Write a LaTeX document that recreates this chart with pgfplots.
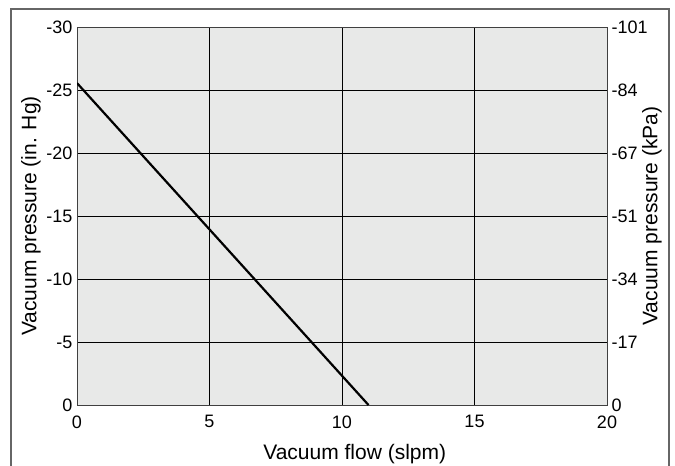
\documentclass[border=0pt]{standalone}
\usepackage{fontspec}
\setmainfont{Liberation Sans}
\usepackage{pgfplots}
\pgfplotsset{compat=1.18}
\definecolor{plotbg}{HTML}{E8E9E8}
\definecolor{framecol}{HTML}{666666}
\begin{document}
\begin{tikzpicture}
\useasboundingbox (0pt,0pt) rectangle (675pt,466pt);
\draw[framecol, line width=1.2pt] (11pt,-10pt) -- (11pt,457pt) -- (669pt,457pt) -- (669pt,-10pt);
\begin{axis}[
  at={(77pt,61pt)}, anchor=south west,
  width=530pt, height=378pt, scale only axis,
  xmin=0, xmax=20, ymin=-30, ymax=0,
  y dir=reverse,
  axis background/.style={fill=plotbg},
  axis line style={draw=black!75, line width=0.8pt},
  xtick={0,5,10,15,20},
  ytick={-30,-25,-20,-15,-10,-5,0},
  yticklabels={-30,-25,-20,-15,-10,-5,0},
  xticklabels={0,5,10,15,20},
  major tick length=0pt,
  grid=major,
  major grid style={black, line width=0.7pt},
  ticklabel style={font=\fontsize{18}{20}\selectfont},
  yticklabel style={xshift=-1pt},
  xticklabel style={yshift=-7pt},
  label style={font=\fontsize{21}{23}\selectfont},
  xlabel={Vacuum flow (slpm)},
  ylabel={Vacuum pressure (in. Hg)},
  xlabel style={at={(axis description cs:0.524,-0.13)}, anchor=center},
  ylabel style={at={(axis description cs:-0.087,0.5)}, anchor=center, rotate=0},
]
\addplot[black, line width=2.2pt] coordinates {(0,-25.55) (11,0)};
\end{axis}
\begin{axis}[
  at={(77pt,61pt)}, anchor=south west,
  width=530pt, height=378pt, scale only axis,
  xmin=0, xmax=20, ymin=-30, ymax=0,
  y dir=reverse,
  axis y line*=right, axis x line=none,
  axis line style={draw=none},
  ytick={-30,-25,-20,-15,-10,-5,0},
  yticklabels={-101,-84,-67,-51,-34,-17,0},
  major tick length=0pt,
  ticklabel style={font=\fontsize{18}{20}\selectfont},
  yticklabel style={xshift=1pt},
  label style={font=\fontsize{21}{23}\selectfont},
  ylabel={Vacuum pressure (kPa)},
  ylabel style={at={(axis description cs:1.085,0.5)}, anchor=center, rotate=0},
]
\end{axis}
\end{tikzpicture}
\end{document}
